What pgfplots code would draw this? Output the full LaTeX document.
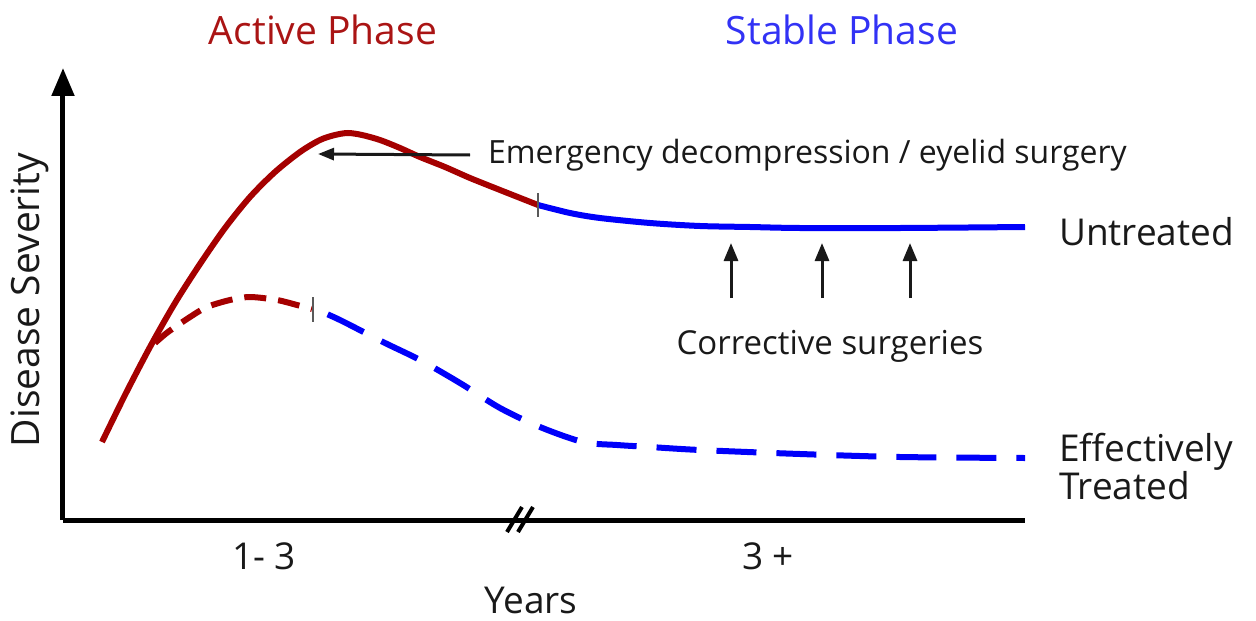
\documentclass[border=0pt]{standalone}
\usepackage{pgfplots}
\pgfplotsset{compat=1.18}
\usepackage{fontspec}
\setmainfont{Open Sans}
\usetikzlibrary{arrows.meta}
\definecolor{dred}{RGB}{165,0,0}
\definecolor{tred}{RGB}{170,20,20}
\definecolor{bblue}{RGB}{0,0,250}
\definecolor{tblue}{RGB}{50,50,245}
\definecolor{txt}{RGB}{25,25,25}
\begin{document}
\begin{tikzpicture}
\begin{axis}[
  scale only axis,
  width=481pt, height=226pt,
  xmin=63, xmax=1025, ymin=98, ymax=550,
  axis x line=bottom, axis y line=left,
  x axis line style={-, line width=2.5pt, black},
  y axis line style={-{Triangle[length=14pt,width=11pt]}, line width=2.5pt, black},
  xtick=\empty, ytick=\empty,
  clip=false,
  font=\fontsize{18.5}{21}\selectfont,
]
% untreated
\addplot[dred, line width=3pt, smooth] coordinates {
(102,176) (125,223) (150,271) (175,315) (200,354) (225,390) (250,421) (275,446) (300,466) (320,478) (335,483) (348,485) (362,483) (380,478) (400,470) (420,461) (445,451) (470,440) (500,428) (538,413)};
\addplot[bblue, line width=3pt, smooth] coordinates {
(538,413) (570,405) (600,400) (650,395) (700,392) (750,391) (800,390) (900,390) (1025,391)};
% treated
\addplot[dred, line width=3pt, smooth, dash pattern=on 11pt off 6pt] coordinates {
(155,275) (168,286) (190,301) (207,311) (230,318) (250,321) (277,318) (297,313) (312,309)};
\addplot[bblue, line width=3pt, smooth, dash pattern=on 20pt off 10pt, dash phase=-8pt] coordinates {
(313,310) (340,298) (383,276) (420,258) (460,235) (500,210) (540,191) (583,176) (617,173) (650,171) (700,168) (800,164) (900,161) (1025,160)};
% phase ticks
\draw[gray!70!black, line width=0.8pt] (axis cs:313,321) -- (axis cs:313,296);
\draw[gray!70!black, line width=0.8pt] (axis cs:538,425) -- (axis cs:538,401);
% axis break
\draw[black, line width=2pt] (axis cs:507,86) -- (axis cs:522,111);
\draw[black, line width=2pt] (axis cs:518,86) -- (axis cs:533,111);
% arrows
\draw[txt, line width=1.5pt, -{Triangle[length=8pt,width=6pt]}] (axis cs:470,463) -- (axis cs:318,464);
\draw[txt, line width=1.5pt, -{Triangle[length=9pt,width=7pt]}] (axis cs:731,320) -- (axis cs:731,375);
\draw[txt, line width=1.5pt, -{Triangle[length=9pt,width=7pt]}] (axis cs:822,320) -- (axis cs:822,375);
\draw[txt, line width=1.5pt, -{Triangle[length=9pt,width=7pt]}] (axis cs:910,320) -- (axis cs:910,375);
% texts
\node[txt, anchor=west, font=\fontsize{16}{20}\selectfont] at (axis cs:481,463) {Emergency decompression / eyelid surgery};
\node[txt, font=\fontsize{16.5}{20}\selectfont] at (axis cs:830,272) {Corrective surgeries};
\node[txt, anchor=west] at (axis cs:1052,386) {Untreated};
\node[txt, anchor=west, align=left, font=\fontsize{18.5}{19}\selectfont] at (axis cs:1052,151) {Effectively\\Treated};
\node[tred, font=\fontsize{19.5}{22}\selectfont] at (axis cs:323,588) {Active Phase};
\node[tblue, font=\fontsize{19.5}{22}\selectfont] at (axis cs:842,588) {Stable Phase};
\node[txt] at (axis cs:264,62) {1- 3};
\node[txt] at (axis cs:768,62) {3 +};
\node[txt] at (axis cs:531,18) {Years};
\node[txt, rotate=90, font=\fontsize{19.5}{22}\selectfont] at (axis cs:30,318) {Disease Severity};
\path (axis cs:0,0) rectangle (axis cs:1256,618);
\end{axis}
\end{tikzpicture}
\end{document}
